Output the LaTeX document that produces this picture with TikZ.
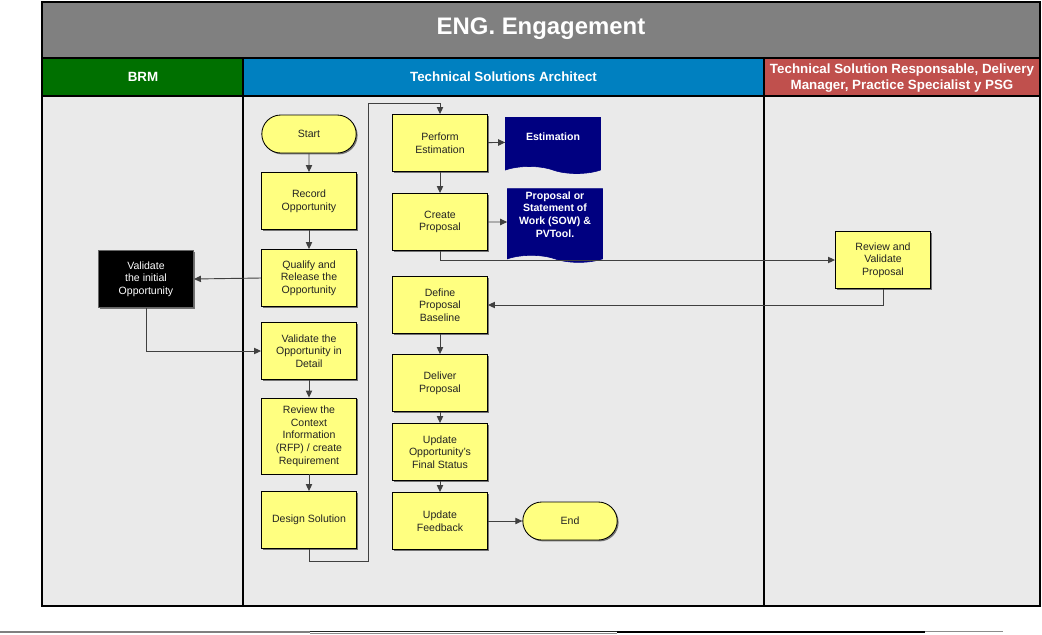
\documentclass[tikz,border=0pt]{standalone}
\usepackage{fontspec}
\setmainfont{Liberation Sans}
\usetikzlibrary{arrows.meta,shapes.misc,shapes.symbols,shadows}
\definecolor{ttlg}{RGB}{128,128,128}
\definecolor{brmg}{RGB}{0,112,0}
\definecolor{tsab}{RGB}{0,128,192}
\definecolor{tsrr}{RGB}{192,80,77}
\definecolor{laneb}{RGB}{234,234,234}
\definecolor{stepy}{RGB}{255,255,128}
\definecolor{docb}{RGB}{0,0,128}
\definecolor{ink}{RGB}{35,35,35}

\begin{document}
\begin{tikzpicture}[
  x=0.025cm, y=-0.025cm,
  font=\fontsize{7.5}{9}\selectfont, ink,
  task/.style={draw=black, fill=stepy, line width=0.6pt, align=center, inner sep=2pt,
               minimum width=2.375cm, minimum height=1.425cm,
               drop shadow={shadow xshift=1pt, shadow yshift=-1pt, fill=black!55, opacity=1}},
  term/.style={task, rounded rectangle, minimum width=2.5cm, minimum height=0.95cm},
  gate/.style={task, fill=black, text=white, draw=black!60},
  docu/.style={tape, tape bend top=none, tape bend bottom=out and in, tape bend height=5pt,
               draw=docb, fill=docb, text=white, align=center, inner sep=2pt,
               font=\bfseries\fontsize{7.5}{9}\selectfont, minimum width=2.375cm},
  hdr/.style={text=white, align=center, inner sep=0pt, minimum height=0.95cm,
              font=\bfseries\fontsize{9.5}{11.5}\selectfont},
  lanerule/.style={line width=2pt, black},
  flow/.style={-{Triangle[length=5pt,width=4.5pt]}, line width=0.65pt, draw=black!75},
]
\useasboundingbox (0,0) rectangle (1042,634);

%% ---- Title and lane headers ----
\fill[ttlg] (42,2) rectangle (1040,58);
\node[white, font=\bfseries\fontsize{17}{20}\selectfont] (title) at (541,29) {ENG. Engagement};
\node[hdr, fill=brmg, minimum width=5cm] (hbrm) at (143,77) {BRM};
\node[hdr, fill=tsab, minimum width=13.025cm] (htsa) at (503.5,77) {Technical Solutions Architect};
\node[hdr, fill=tsrr, minimum width=6.9cm] (htsr) at (902,78)
  {Technical Solution Responsable, Delivery\\Manager, Practice Specialist y PSG};

%% ---- Lane bodies ----
\fill[laneb] (42,96) rectangle (1040,606);
\draw[lanerule] (42,2) rectangle (1040,606);
\draw[lanerule] (42,58) -- (1040,58);
\draw[lanerule] (42,96) -- (1040,96);
\draw[lanerule] (243,58) -- (243,606);
\draw[lanerule] (764,58) -- (764,606);

%% =========================================================
%% BRM lane
%% =========================================================
\node[gate] (valinit) at (146,279) {Validate\\the initial\\Opportunity};

%% =========================================================
%% Technical Solutions Architect lane
%% =========================================================
\node[term] (start) at (309,134) {Start};
\node[task] (record) at (309,201) {Record\\Opportunity};
\node[task] (qualify) at (309,278) {Qualify and\\Release the\\Opportunity};
\node[task] (valdet) at (309,351) {Validate the\\Opportunity in\\Detail};
\node[task, minimum height=1.9cm] (context) at (309,436)
  {Review the\\Context\\Information\\(RFP) / create\\Requirement};
\node[task] (design) at (309,520) {Design Solution};

\node[task] (perform) at (440,143) {Perform\\Estimation};
\node[task] (create) at (440,222) {Create\\Proposal};
\node[task] (define) at (440,305) {Define\\Proposal\\Baseline};
\node[task] (deliver) at (440,383) {Deliver\\Proposal};
\node[task] (status) at (440,452) {Update\\Opportunity's\\Final Status};
\node[task] (feedback) at (440,521) {Update\\Feedback};
\node[term] (end) at (570,521) {End};

\node[docu, minimum height=1.4cm, text depth=7pt] (estim) at (553,142) {Estimation};
\node[docu, minimum height=1.7cm] (sow) at (555,222)
  {Proposal or\\Statement of\\Work (SOW) \&\\PVTool.\\[2pt]};

%% =========================================================
%% Right lane
%% =========================================================
\node[task] (revval) at (883,260) {Review and\\Validate\\Proposal};

%% ---- connectors ----
\coordinate (loopb) at (368,561);
\coordinate (loopt) at (368,103);

\draw[flow] (start) -- (record);
\draw[flow] (record) -- (qualify);
\draw[flow] (qualify.west) -- (valinit.east);
\draw[flow] (valinit.south) |- (valdet.west);
\draw[flow] (valdet) -- (context);
\draw[flow] (context) -- (design);
\draw[flow] (design.south) |- (loopb) -- (loopt) -| (perform.north);
\draw[flow] (perform) -- (estim);
\draw[flow] (perform) -- (create);
\draw[flow] (create) -- (sow);
\draw[flow] (create.south) |- (revval.west);
\draw[flow] (revval.south) |- (define.east);
\draw[flow] (define) -- (deliver);
\draw[flow] (deliver) -- (status);
\draw[flow] (status) -- (feedback);
\draw[flow] (feedback) -- (end);

%% ---- page rule ----
\draw[line width=1.4pt, black!50] (0,632) -- (310,632);
\draw[line width=0.7pt, black!45] (310,633) -- (617,633);
\draw[line width=0.7pt, black!85] (310,631.5) -- (617,631.5);
\draw[line width=0.8pt, black] (617,632) -- (925,632);
\draw[line width=1.4pt, black!45] (925,631.5) -- (1003,631.5);

\end{tikzpicture}
\end{document}
